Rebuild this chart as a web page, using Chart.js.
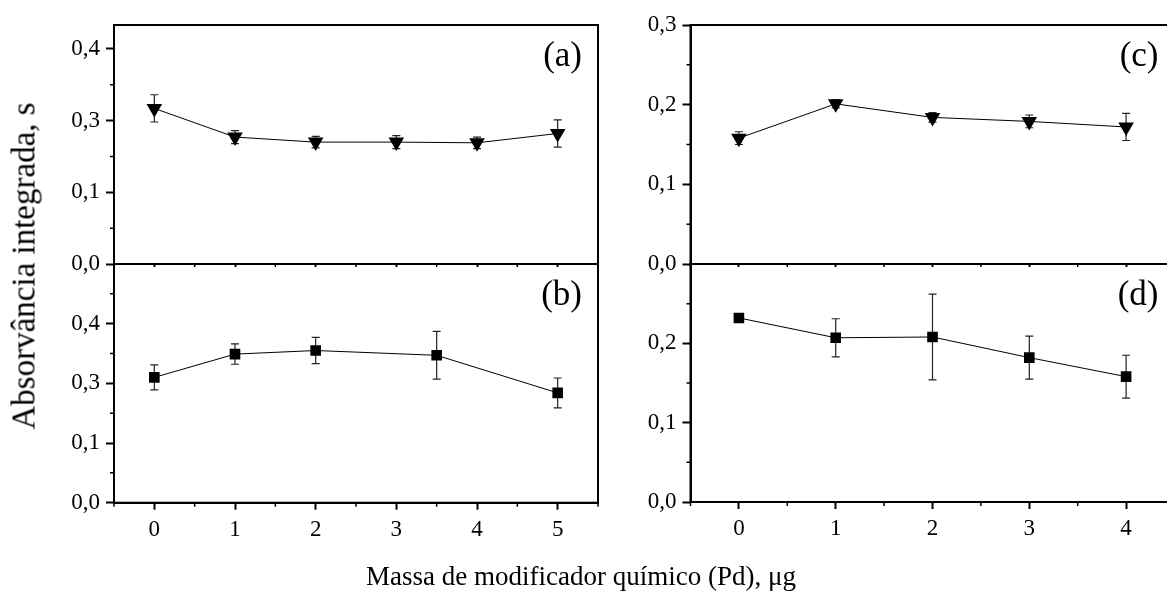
<!DOCTYPE html>
<html>
<head>
<meta charset="utf-8">
<script src="https://cdn.jsdelivr.net/npm/chart.js@4.4.0/dist/chart.umd.min.js"></script>
<style>
    html, body { margin: 0; padding: 0; background: #fff; width: 1167px; height: 593px; overflow: hidden; }
    canvas { position: absolute; }
    .axis-title {
        position: absolute;
        font-family: 'Liberation Serif', 'Times New Roman', serif;
        color: #000;
        white-space: nowrap;
    }
</style>
</head>
<body>
<canvas id="chartA" width="620" height="290" style="left:0;top:0"></canvas>
<canvas id="chartB" width="620" height="353" style="left:0;top:240px"></canvas>
<canvas id="chartC" width="600" height="290" style="left:600px;top:0"></canvas>
<canvas id="chartD" width="600" height="353" style="left:600px;top:240px"></canvas>
<div class="axis-title" id="xTitle" style="left:581px;top:563px;font-size:27px;line-height:27px;transform:translateX(-50%)">Massa de modificador químico (Pd), μg</div>
<div class="axis-title" id="yTitle" style="left:24px;top:266px;font-size:33px;line-height:33px;transform:translate(-50%,-50%) rotate(-90deg)">Absorvância integrada, s</div>
<script>
// Data (left panels use the printed labels: 0,0 0,1 0,3 0,4 are evenly spaced)
const xA = [0, 1, 2, 3, 4, 5];
const valuesA = [0.317, 0.277, 0.270, 0.270, 0.269, 0.282];
const errorsA = [0.019, 0.009, 0.008, 0.009, 0.008, 0.019];

const xB = [0, 1, 2, 3.5, 5];
const valuesB = [0.310, 0.349, 0.355, 0.347, 0.284];
const errorsB = [0.021, 0.017, 0.022, 0.040, 0.025];

const xC = [0, 1, 2, 3, 4];
const valuesC = [0.158, 0.201, 0.184, 0.179, 0.172];
const errorsC = [0.008, 0.005, 0.006, 0.008, 0.017];

const xD = [0, 1, 2, 3, 4];
const valuesD = [0.232, 0.207, 0.208, 0.182, 0.158];
const errorsD = [0.003, 0.024, 0.054, 0.027, 0.027];

// Axis ticks and labels
const xTicksLeft = [0, 1, 2, 3, 4, 5];
const xTicksRight = [0, 1, 2, 3, 4];
const yTicksLeft = [0.1, 0.2, 0.3, 0.4];
const yLabelsLeft = ['0,0', '0,1', '0,3', '0,4'];
const yTicksRight = [0, 0.1, 0.2, 0.3];
const yLabelsRight = ['0,0', '0,1', '0,2', '0,3'];
const panelLetters = ['(a)', '(b)', '(c)', '(d)'];

const FONT = "'Liberation Serif', 'Times New Roman', serif";

// error bars drawn under the markers
const errorBars = {
    id: 'errorBars',
    beforeDatasetsDraw(chart) {
        const { ctx, scales: { x, y } } = chart;
        ctx.save();
        ctx.strokeStyle = '#222';
        ctx.lineWidth = 1.2;
        chart.data.datasets.forEach(ds => {
            (ds.errors || []).forEach((e, i) => {
                const p = ds.data[i];
                const px = x.getPixelForValue(p.x);
                const top = y.getPixelForValue(p.y + e);
                const bot = y.getPixelForValue(p.y - e);
                ctx.beginPath();
                ctx.moveTo(px, top); ctx.lineTo(px, bot);
                ctx.moveTo(px - 4, top); ctx.lineTo(px + 4, top);
                ctx.moveTo(px - 4, bot); ctx.lineTo(px + 4, bot);
                ctx.stroke();
            });
        });
        ctx.restore();
    }
};

// box around the plot, minor ticks and the panel letter
const frame = {
    id: 'frame',
    afterDraw(chart, args, opts) {
        const { ctx, chartArea: a, scales: { x, y } } = chart;
        ctx.save();
        ctx.strokeStyle = '#000';
        ctx.lineWidth = 2;
        ctx.strokeRect(a.left, a.top, a.right - a.left, a.bottom - a.top);

        ctx.lineWidth = 1.5;
        ctx.beginPath();
        opts.xMinor.forEach(v => {
            const p = x.getPixelForValue(v);
            ctx.moveTo(p, a.bottom); ctx.lineTo(p, a.bottom + opts.minorLen);
        });
        opts.yMinor.forEach(v => {
            const p = y.getPixelForValue(v);
            ctx.moveTo(a.left, p); ctx.lineTo(a.left - 4, p);
        });
        ctx.stroke();

        ctx.fillStyle = '#000';
        ctx.font = '35px ' + FONT;
        ctx.textAlign = 'right';
        ctx.textBaseline = 'middle';
        ctx.fillText(opts.letter, a.right - 16, a.top + 32);
        ctx.restore();
    }
};

function makePanel(id, cfg) {
    const points = cfg.xs.map((x, i) => ({ x: x, y: cfg.values[i] }));
    const isTri = cfg.marker === 'triangle';
    return new Chart(document.getElementById(id), {
        type: 'scatter',
        data: {
            datasets: [{
                data: points,
                errors: cfg.errors,
                showLine: true,
                borderColor: '#000',
                borderWidth: 1,
                backgroundColor: '#000',
                pointBackgroundColor: '#000',
                pointBorderColor: '#000',
                pointBorderWidth: 0,
                pointStyle: cfg.marker,
                pointRotation: isTri ? 180 : 0,
                pointRadius: isTri ? 9 : 7.5,
                pointHoverRadius: isTri ? 9 : 7.5
            }]
        },
        options: {
            responsive: false,
            animation: false,
            events: [],
            layout: { padding: { top: cfg.padTop, right: cfg.padRight, left: 0, bottom: 0 } },
            plugins: {
                legend: { display: false },
                tooltip: { enabled: false },
                frame: {
                    letter: cfg.letter,
                    xMinor: cfg.xMinor,
                    yMinor: cfg.yMinor,
                    minorLen: cfg.showX ? 4 : 3
                }
            },
            scales: {
                x: {
                    type: 'linear',
                    min: cfg.xMin,
                    max: cfg.xMax,
                    afterBuildTicks: s => { s.ticks = cfg.xTicks.map(v => ({ value: v })); },
                    afterFit: s => { s.height = cfg.xHeight; },
                    border: { display: true, color: '#000', width: 2 },
                    grid: {
                        drawOnChartArea: false,
                        drawTicks: true,
                        tickLength: cfg.showX ? 7 : 3,
                        tickWidth: 2,
                        tickColor: '#000'
                    },
                    ticks: {
                        display: cfg.showX,
                        color: '#000',
                        padding: 6,
                        maxRotation: 0,
                        font: { family: FONT, size: 23 },
                        callback: v => String(v)
                    }
                },
                y: {
                    type: 'linear',
                    min: cfg.yMin,
                    max: cfg.yMax,
                    afterBuildTicks: s => { s.ticks = cfg.yTicks.map(v => ({ value: v })); },
                    afterFit: s => { s.width = cfg.yWidth; },
                    border: { display: true, color: '#000', width: 2 },
                    grid: {
                        drawOnChartArea: false,
                        drawTicks: true,
                        tickLength: 8,
                        tickWidth: 2,
                        tickColor: '#000'
                    },
                    ticks: {
                        color: '#000',
                        padding: 6,
                        font: { family: FONT, size: 23 },
                        callback: (v, i) => cfg.yLabels[i]
                    }
                }
            }
        },
        plugins: [errorBars, frame]
    });
}

const xMinorLeft = [-0.5].concat(xTicksLeft.map(v => v + 0.5));
const xMinorRight = [-0.5].concat(xTicksRight.map(v => v + 0.5));

makePanel('chartA', {
    xs: xA, values: valuesA, errors: errorsA, marker: 'triangle', letter: panelLetters[0],
    xMin: -0.5, xMax: 5.5, xTicks: xTicksLeft, xMinor: xMinorLeft, showX: false, xHeight: 26,
    yMin: 0.1, yMax: 0.4333, yTicks: yTicksLeft, yLabels: yLabelsLeft, yMinor: [0.15, 0.25, 0.35],
    yWidth: 114, padTop: 25, padRight: 22
});

makePanel('chartB', {
    xs: xB, values: valuesB, errors: errorsB, marker: 'rect', letter: panelLetters[1],
    xMin: -0.5, xMax: 5.5, xTicks: xTicksLeft, xMinor: xMinorLeft, showX: true, xHeight: 90.3,
    yMin: 0.1, yMax: 0.5, yTicks: yTicksLeft, yLabels: yLabelsLeft, yMinor: [0.15, 0.25, 0.35, 0.45],
    yWidth: 114, padTop: 24, padRight: 22
});

makePanel('chartC', {
    xs: xC, values: valuesC, errors: errorsC, marker: 'triangle', letter: panelLetters[2],
    xMin: -0.5, xMax: 4.5, xTicks: xTicksRight, xMinor: xMinorRight, showX: false, xHeight: 26,
    yMin: 0, yMax: 0.3, yTicks: yTicksRight, yLabels: yLabelsRight, yMinor: [0.05, 0.15, 0.25],
    yWidth: 90.5, padTop: 25, padRight: 25.5
});

makePanel('chartD', {
    xs: xD, values: valuesD, errors: errorsD, marker: 'rect', letter: panelLetters[3],
    xMin: -0.5, xMax: 4.5, xTicks: xTicksRight, xMinor: xMinorRight, showX: true, xHeight: 91,
    yMin: 0, yMax: 0.3, yTicks: yTicksRight.slice(0, 3), yLabels: yLabelsRight, yMinor: [0.05, 0.15, 0.25],
    yWidth: 90.5, padTop: 24, padRight: 25.5
});
</script>
</body>
</html>
